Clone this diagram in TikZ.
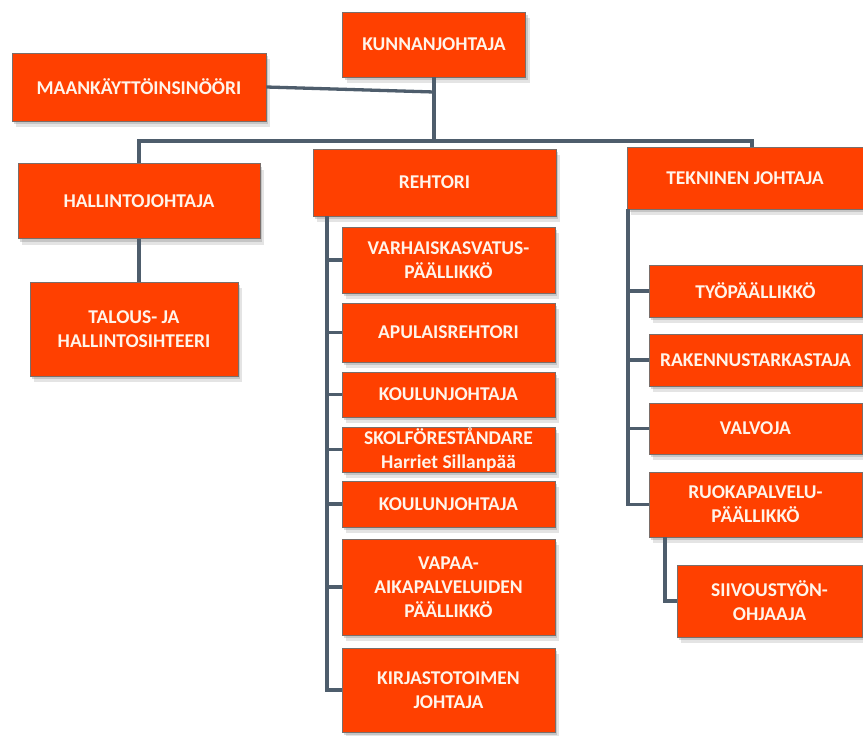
\documentclass[tikz,border=0pt]{standalone}
\usepackage{fontspec}
\setmainfont{Carlito}
\usepackage{tikz}
\usetikzlibrary{shadows,calc}
\definecolor{boxfill}{HTML}{FF4000}
\definecolor{boxline}{HTML}{7A6E6A}
\definecolor{linkcol}{HTML}{4E5D6C}
\definecolor{txtcol}{HTML}{FFF4EA}

\begin{document}
\begin{tikzpicture}[x=1pt,y=-1pt,
  post/.style={rectangle,draw=boxline,line width=0.8pt,fill=boxfill,text=txtcol,
    font=\fontsize{19.5}{24}\selectfont\bfseries,align=center,inner sep=0pt,
    drop shadow={shadow xshift=4pt,shadow yshift=-6pt,fill=black!30,opacity=0.35},
    drop shadow={shadow xshift=2pt,shadow yshift=-3pt,fill=black!45,opacity=0.35}},
  link/.style={draw=linkcol,line width=3.3pt}]
\useasboundingbox (0,0) rectangle (863,736);
\node[post,minimum width=183pt,minimum height=65pt] (kunn) at (434,44.5) {KUNNANJOHTAJA};
\node[post,minimum width=254pt,minimum height=68pt] (maan) at (139,87) {MAANKÄYTTÖINSINÖÖRI};
\node[post,minimum width=242pt,minimum height=75pt] (hall) at (139,201) {HALLINTOJOHTAJA};
\node[post,minimum width=243pt,minimum height=67pt] (rehtori) at (434.5,182.5) {REHTORI};
\node[post,minimum width=236pt,minimum height=62pt] (tekn) at (745,178) {TEKNINEN JOHTAJA};
\node[post,minimum width=208pt,minimum height=94pt] (talous) at (134,329) {TALOUS- JA\\HALLINTOSIHTEERI};
\node[post,minimum width=213pt,minimum height=66pt] (varh) at (448.5,260) {VARHAISKASVATUS-\\PÄÄLLIKKÖ};
\node[post,minimum width=213pt,minimum height=59pt] (apul) at (448.5,332.5) {APULAISREHTORI};
\node[post,minimum width=213pt,minimum height=45pt] (koula) at (448.5,394.5) {KOULUNJOHTAJA};
\node[post,minimum width=213pt,minimum height=45pt] (skol) at (448.5,449.5) {SKOLFÖRESTÅNDARE\\Harriet Sillanpää};
\node[post,minimum width=213pt,minimum height=46pt] (koulb) at (448.5,504) {KOULUNJOHTAJA};
\node[post,minimum width=213pt,minimum height=96pt] (vapaa) at (448.5,587) {VAPAA-\\AIKAPALVELUIDEN\\PÄÄLLIKKÖ};
\node[post,minimum width=213pt,minimum height=84pt] (kirj) at (448.5,690) {KIRJASTOTOIMEN\\JOHTAJA};
\node[post,minimum width=213pt,minimum height=52pt] (tyo) at (755.5,291) {TYÖPÄÄLLIKKÖ};
\node[post,minimum width=213pt,minimum height=52pt] (rak) at (755.5,360) {RAKENNUSTARKASTAJA};
\node[post,minimum width=213pt,minimum height=51pt] (valv) at (755.5,428.5) {VALVOJA};
\node[post,minimum width=213pt,minimum height=65pt] (ruok) at (755.5,504.5) {RUOKAPALVELU-\\PÄÄLLIKKÖ};
\node[post,minimum width=185pt,minimum height=72pt] (siiv) at (769.5,601) {SIIVOUSTYÖN-\\OHJAAJA};
\coordinate (mj) at (434,92);
\coordinate (busR) at (752,141);
\coordinate (rtrunk) at (327,216);
\coordinate (ttrunk) at (628,209);
\coordinate (strunk) at (665,537);
\draw[link] (kunn.south) -- (kunn.south |- busR);
\draw[link] (maan.east) -- (mj);
\draw[link] (hall.north) |- (busR) -- (tekn.north -| busR);
\draw[link] (hall.south) -- (talous.north -| hall.south);
\draw[link] (rtrunk) |- (kirj.west);
\foreach \c in {varh,apul,koula,skol,koulb,vapaa}
  \draw[link] (rtrunk |- \c.west) -- (\c.west);
\draw[link] (ttrunk) |- (ruok.west);
\foreach \c in {tyo,rak,valv}
  \draw[link] (ttrunk |- \c.west) -- (\c.west);
\draw[link] (strunk) |- (siiv.west);
\end{tikzpicture}
\end{document}
